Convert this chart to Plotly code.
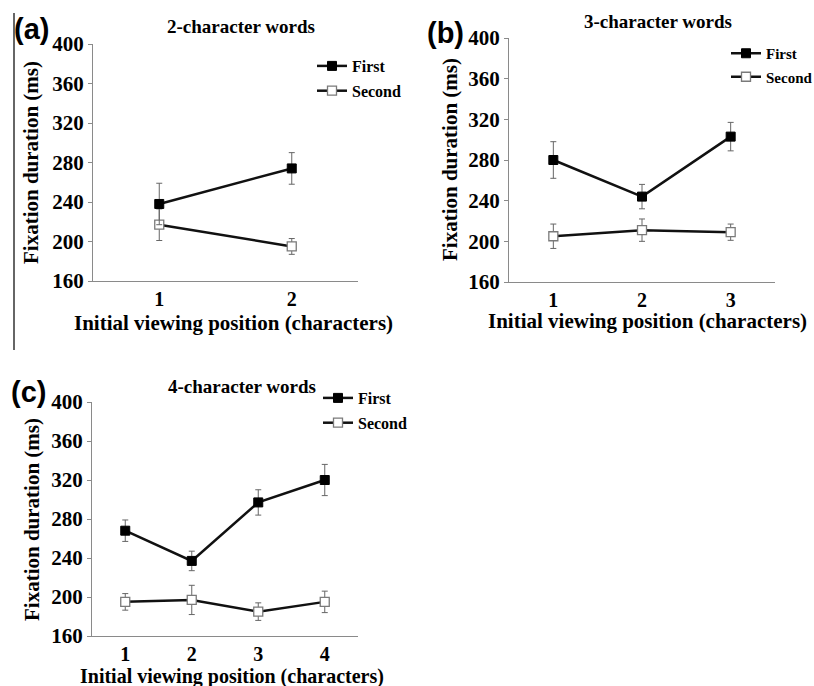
import plotly.graph_objects as go

W, H = 814, 686

# ---- data ----
pos_a = [1, 2]
first_a = [238, 274]
first_a_err = [21, 16]
second_a = [217, 195]
second_a_err = [16, 8]

pos_b = [1, 2, 3]
first_b = [280, 244, 303]
first_b_err = [18, 12, 14]
second_b = [205, 211, 209]
second_b_err = [12, 11, 8]

pos_c = [1, 2, 3, 4]
first_c = [268, 237, 297, 320]
first_c_err = [11, 10, 13, 16]
second_c = [195, 197, 185, 195]
second_c_err = [8.5, 15, 9, 11]

y_ticks = [160, 200, 240, 280, 320, 360, 400]
titles = ["2-character words", "3-character words", "4-character words"]
panel_labels = ["(a)", "(b)", "(c)"]
x_title = "Initial viewing position (characters)"
y_title = "Fixation duration (ms)"

SERIF = "Liberation Serif, Times New Roman, serif"
SANS = "Liberation Sans, Arial, sans-serif"

def px_x(p):
    return p / W

def px_y(p):
    return 1 - p / H

# panel geometry in pixels: (x0, x1, ytop, ybottom)
geo = [
    (93, 358, 44, 281),
    (509, 775, 38, 282),
    (92, 358, 402, 636),
]

fig = go.Figure()

datasets = [
    (pos_a, first_a, first_a_err, second_a, second_a_err),
    (pos_b, first_b, first_b_err, second_b, second_b_err),
    (pos_c, first_c, first_c_err, second_c, second_c_err),
]

legend_names = ["legend", "legend2", "legend3"]

for i, (pos, f, fe, s, se) in enumerate(datasets):
    xa = "x" if i == 0 else f"x{i+1}"
    ya = "y" if i == 0 else f"y{i+1}"
    fig.add_trace(go.Scatter(
        x=pos, y=s, xaxis=xa, yaxis=ya, mode="lines+markers", name="Second",
        line=dict(color="#111111", width=2.5),
        marker=dict(symbol="square", size=9, color="white",
                    line=dict(color="#7a7a7a", width=1.3)),
        error_y=dict(type="data", array=se, color="#666666", thickness=1, width=3),
        legend=legend_names[i], legendrank=2, legendgroup=f"s{i}",
    ))
    fig.add_trace(go.Scatter(
        x=pos, y=f, xaxis=xa, yaxis=ya, mode="lines+markers", name="First",
        line=dict(color="#111111", width=2.5),
        marker=dict(symbol="square", size=9, color="black",
                    line=dict(color="black", width=1)),
        error_y=dict(type="data", array=fe, color="#666666", thickness=1, width=3),
        legend=legend_names[i], legendrank=1, legendgroup=f"f{i}",
    ))

layout = dict(
    width=W, height=H, margin=dict(l=0, r=0, t=0, b=0, autoexpand=False),
    paper_bgcolor="white", plot_bgcolor="white",
    font=dict(family=SERIF, color="black"),
)

for i, (x0, x1, yt, yb) in enumerate(geo):
    n = len(datasets[i][0])
    xk = "xaxis" if i == 0 else f"xaxis{i+1}"
    yk = "yaxis" if i == 0 else f"yaxis{i+1}"
    ya_ref = "y" if i == 0 else f"y{i+1}"
    xa_ref = "x" if i == 0 else f"x{i+1}"
    layout[xk] = dict(
        domain=[px_x(x0), px_x(x1)], range=[0.5, n + 0.5], anchor=ya_ref,
        tickvals=datasets[i][0], ticktext=[str(v) for v in datasets[i][0]],
        showline=True, linecolor="#8a8a8a", linewidth=1.2, ticks="",
        showgrid=False, zeroline=False,
        tickfont=dict(family=SERIF, size=20, color="black", weight="bold"),
    )
    layout[yk] = dict(
        domain=[px_y(yb), px_y(yt)], range=[160, 400], anchor=xa_ref,
        tickvals=y_ticks, ticktext=[str(v) for v in y_ticks],
        showline=True, linecolor="#8a8a8a", linewidth=1.2,
        ticks="outside", ticklen=4, tickcolor="#8a8a8a",
        showgrid=False, zeroline=False,
        tickfont=dict(family=SERIF, size=21, color="black", weight="bold"),
    )

# legends
leg_pos = [(312, 49, 16), (726, 37, 15), (318, 381, 16)]
for i, (lx, ly, fs) in enumerate(leg_pos):
    key = legend_names[i]
    layout[key] = dict(
        x=px_x(lx), y=px_y(ly), xanchor="left", yanchor="top",
        bgcolor="rgba(0,0,0,0)", borderwidth=0,
        font=dict(family=SERIF, size=fs, color="black", weight="bold"),
        itemwidth=30, tracegroupgap=1, traceorder="grouped",
    )

fig.update_layout(**layout)

anns = []
title_pos = [(241, 27), (658, 21), (242, 386)]
for t, (tx, ty) in zip(titles, title_pos):
    anns.append(dict(x=px_x(tx), y=px_y(ty), xref="paper", yref="paper",
                     text=t, showarrow=False, xanchor="center", yanchor="middle",
                     font=dict(family=SERIF, size=19, color="black", weight="bold")))
lab_pos = [(31, 29), (445, 33), (28, 392)]
for t, (tx, ty) in zip(panel_labels, lab_pos):
    anns.append(dict(x=px_x(tx), y=px_y(ty), xref="paper", yref="paper",
                     text=t, showarrow=False, xanchor="center", yanchor="middle",
                     font=dict(family=SANS, size=29, color="black", weight="bold")))
xt_pos = [(233, 323, 21), (647, 321, 21), (232, 676, 20)]
for tx, ty, fs in xt_pos:
    anns.append(dict(x=px_x(tx), y=px_y(ty), xref="paper", yref="paper",
                     text=x_title, showarrow=False, xanchor="center", yanchor="middle",
                     font=dict(family=SERIF, size=fs, color="black", weight="bold")))
yt_pos = [(31, 163), (450, 160), (32, 520)]
for tx, ty in yt_pos:
    anns.append(dict(x=px_x(tx), y=px_y(ty), xref="paper", yref="paper",
                     text=y_title, showarrow=False, xanchor="center", yanchor="middle",
                     textangle=-90,
                     font=dict(family=SERIF, size=21, color="black", weight="bold")))
fig.update_layout(annotations=anns)

# thin border line at the left (crop edge of original figure)
fig.add_shape(type="line", xref="paper", yref="paper",
              x0=px_x(14), x1=px_x(14), y0=px_y(13), y1=px_y(350),
              line=dict(color="#333333", width=1.5))

fig.write_html("out.html")
